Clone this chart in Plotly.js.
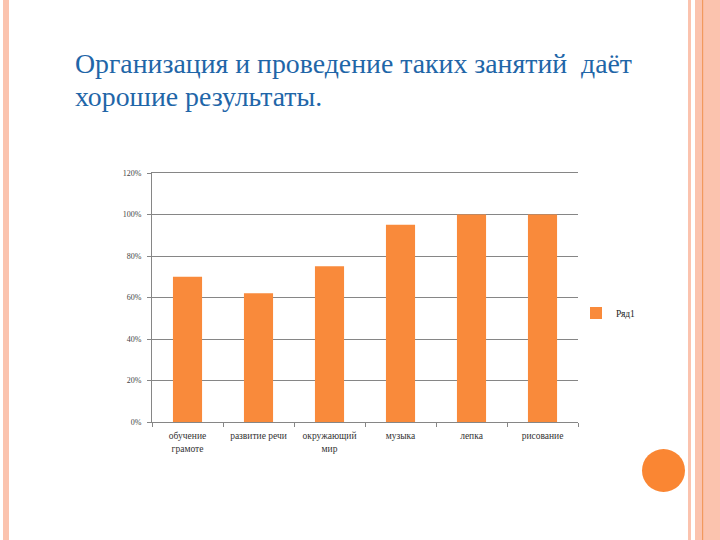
<!DOCTYPE html>
<html>
<head>
<meta charset="utf-8">
<script src="https://cdn.plot.ly/plotly-3.0.1.min.js"></script>
<style>html,body{margin:0;padding:0;background:#fff;}#chart{width:720px;height:540px;}</style>
</head>
<body>
<div id="chart"></div>
<script>
var categories = ["обучение<br>грамоте", "развитие речи", "окружающий<br>мир", "музыка", "лепка", "рисование"];
var values = [0.70, 0.62, 0.75, 0.95, 1.00, 1.00];
var seriesName = "Ряд1";
var yTickVals = [0, 0.2, 0.4, 0.6, 0.8, 1.0, 1.2];
var yTickText = ["0%", "20%", "40%", "60%", "80%", "100%", "120%"];
var titleLines = ["Организация и проведение таких занятий  даёт", "хорошие результаты."];

var W = 720, H = 540;
function px(x){return x / W;}
function py(y){return 1 - y / H;}

var trace = {
  type: "bar",
  x: categories,
  y: values,
  name: seriesName,
  marker: {color: "#F98A3B"},
  width: 0.41,
  showlegend: true
};

var pink = "#FBC3AE";
var shapes = [
  {type:"rect", xref:"paper", yref:"paper", x0:px(3), x1:px(9), y0:0, y1:1, fillcolor:pink, line:{width:0}, layer:"below"},
  {type:"rect", xref:"paper", yref:"paper", x0:px(688), x1:px(691), y0:0, y1:1, fillcolor:pink, line:{width:0}, layer:"below"},
  {type:"rect", xref:"paper", yref:"paper", x0:px(695), x1:px(720), y0:0, y1:1, fillcolor:pink, line:{width:0}, layer:"below"},
  {type:"rect", xref:"paper", yref:"paper", x0:px(702), x1:px(703.2), y0:0, y1:1, fillcolor:"#F2995E", line:{width:0}, layer:"below"},
  {type:"circle", xref:"paper", yref:"paper", x0:px(642), x1:px(685), y0:py(449), y1:py(492), fillcolor:"#FA8633", line:{width:0}}
];

var layout = {
  width: W, height: H,
  margin: {l:0, r:0, t:0, b:0},
  paper_bgcolor: "#fff",
  plot_bgcolor: "rgba(0,0,0,0)",
  font: {family: "Liberation Serif, Times New Roman, serif", size: 9, color: "#333"},
  bargap: 0.59,
  xaxis: {
    domain: [px(152), px(578)],
    type: "category",
    showline: true, linecolor: "#868686", linewidth: 1, mirror: true,
    ticks: "outside", ticklen: 4, tickcolor: "#868686", tickson: "boundaries",
    showgrid: false,
    ticklabelstandoff: 5,
    tickfont: {family: "Liberation Serif, Times New Roman, serif", size: 9.5, color: "#333"},
    fixedrange: true
  },
  yaxis: {
    domain: [py(422), py(173)],
    range: [0, 1.2],
    tickvals: yTickVals, ticktext: yTickText,
    showline: true, linecolor: "#868686", linewidth: 1,
    ticks: "outside", ticklen: 4, tickcolor: "#868686",
    showgrid: true, gridcolor: "#868686", gridwidth: 1,
    zeroline: false,
    tickfont: {family: "Liberation Serif, Times New Roman, serif", size: 8, color: "#444"},
    ticklabelstandoff: 4,
    fixedrange: true
  },
  legend: {
    x: px(576), y: py(313), xanchor: "left", yanchor: "middle",
    bgcolor: "rgba(0,0,0,0)",
    font: {family: "Liberation Serif, Times New Roman, serif", size: 9.5, color: "#222"},
    itemwidth: 30
  },
  shapes: shapes,
  annotations: [
    {xref:"paper", yref:"paper", x:px(73), y:py(63), xanchor:"left", yanchor:"middle", showarrow:false,
     text: titleLines[0], font:{family:"Liberation Serif, Times New Roman, serif", size:27.8, color:"#1F66A8"}},
    {xref:"paper", yref:"paper", x:px(73), y:py(96), xanchor:"left", yanchor:"middle", showarrow:false,
     text: titleLines[1], font:{family:"Liberation Serif, Times New Roman, serif", size:27.8, color:"#1F66A8"}}
  ]
};

Plotly.newPlot("chart", [trace], layout, {displayModeBar:false, staticPlot:true});
</script>
</body>
</html>
